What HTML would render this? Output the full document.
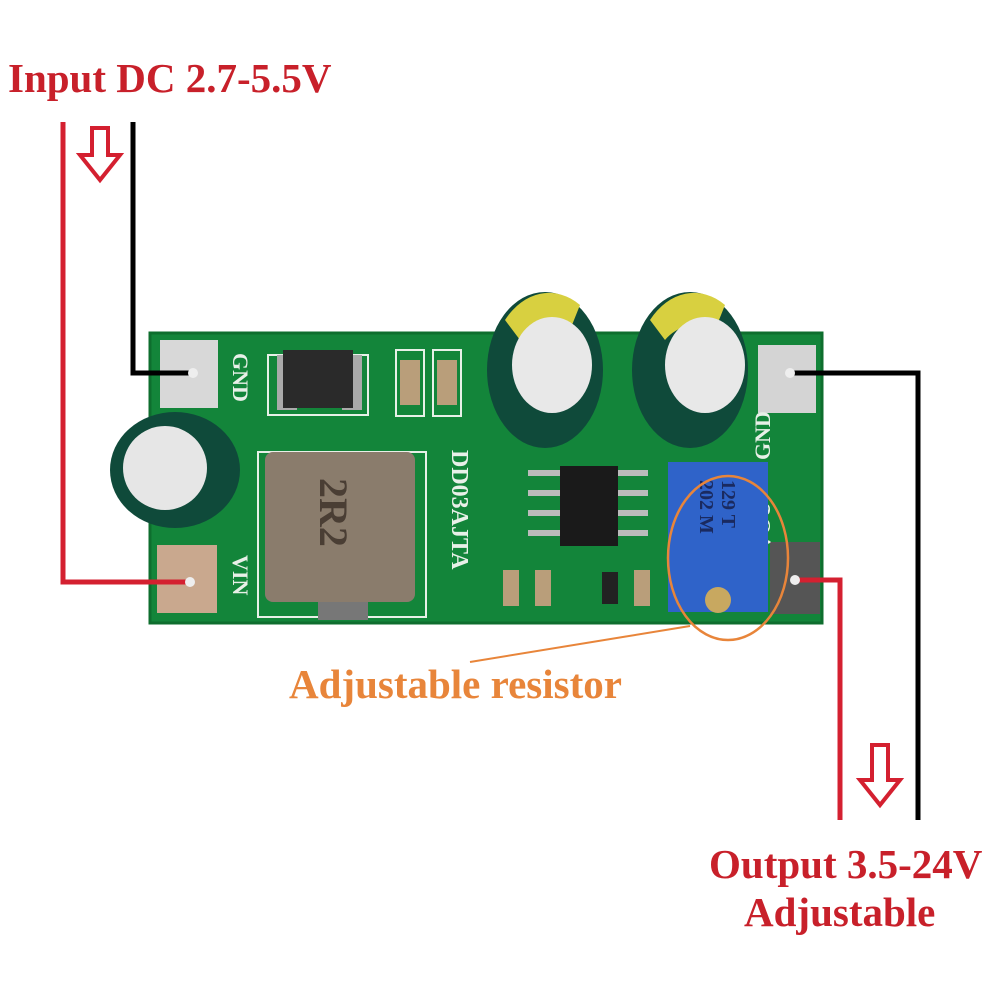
<!DOCTYPE html>
<html><head><style>
html,body{margin:0;padding:0;background:#fff;}
svg{display:block}
text{font-family:"Liberation Serif",serif;font-weight:bold}
</style></head><body>
<svg width="1000" height="1000" viewBox="0 0 1000 1000" xmlns="http://www.w3.org/2000/svg">
<rect width="1000" height="1000" fill="#fff"/>
<text x="8" y="92" font-size="41" fill="#c8202a">Input DC 2.7-5.5V</text>
<rect x="150" y="333" width="672" height="290" fill="#13853a" rx="3"/>
<rect x="150" y="333" width="672" height="290" fill="none" stroke="#0e6e2e" stroke-width="3"/>
<rect x="160" y="340" width="58" height="68" fill="#d8d8d8"/>
<rect x="157" y="545" width="60" height="68" fill="#c9a88e"/>
<rect x="758" y="345" width="58" height="68" fill="#d4d4d4"/>
<rect x="770" y="542" width="50" height="72" fill="#555"/>
<text x="233" y="353" font-size="22" fill="#e8f0e8" transform="rotate(90 233 353)">GND</text>
<text x="233" y="555" font-size="22" fill="#e8f0e8" transform="rotate(90 233 555)">VIN</text>
<text x="770" y="420" font-size="22" fill="#e8f0e8" transform="rotate(-90 770 420) translate(-40,0)">GND</text>
<text x="770" y="520" font-size="22" fill="#e8f0e8" transform="rotate(-90 770 520) translate(-30,0)">VOU</text>
<rect x="268" y="355" width="100" height="60" fill="none" stroke="#e8f0e8" stroke-width="2"/>
<rect x="277" y="355" width="20" height="55" fill="#aaa"/>
<rect x="342" y="355" width="20" height="55" fill="#aaa"/>
<rect x="283" y="350" width="70" height="58" fill="#2a2a2a"/>
<rect x="396" y="350" width="28" height="66" fill="none" stroke="#e8f0e8" stroke-width="2"/>
<rect x="400" y="360" width="20" height="45" fill="#b99e7a"/>
<rect x="433" y="350" width="28" height="66" fill="none" stroke="#e8f0e8" stroke-width="2"/>
<rect x="437" y="360" width="20" height="45" fill="#b99e7a"/>
<rect x="258" y="452" width="168" height="165" fill="none" stroke="#e8f0e8" stroke-width="2"/>
<rect x="318" y="598" width="50" height="22" fill="#777"/>
<rect x="265" y="452" width="150" height="150" rx="8" fill="#8a7c6c"/>
<text x="320" y="478" font-size="40" fill="#4a3e34" transform="rotate(90 320 478)">2R2</text>
<text x="452" y="450" font-size="24" fill="#e8f0e8" transform="rotate(90 452 450)">DD03AJTA</text>
<rect x="560" y="466" width="58" height="80" fill="#1a1a1a"/>
<g fill="#bbb"><rect x="528" y="470" width="32" height="6"/><rect x="528" y="490" width="32" height="6"/><rect x="528" y="510" width="32" height="6"/><rect x="528" y="530" width="32" height="6"/>
<rect x="618" y="470" width="30" height="6"/><rect x="618" y="490" width="30" height="6"/><rect x="618" y="510" width="30" height="6"/><rect x="618" y="530" width="30" height="6"/></g>
<g fill="#b99e7a"><rect x="503" y="570" width="16" height="36"/><rect x="535" y="570" width="16" height="36"/><rect x="634" y="570" width="16" height="36"/></g>
<rect x="602" y="572" width="16" height="32" fill="#222"/>
<ellipse cx="175" cy="470" rx="65" ry="58" fill="#0f4a3a"/>
<ellipse cx="165" cy="468" rx="42" ry="42" fill="#e6e6e6"/>
<ellipse cx="545" cy="370" rx="58" ry="78" fill="#0f4a3a"/>
<path d="M505 320 A58 78 0 0 1 580 305 L570 330 A40 40 0 0 0 520 340 Z" fill="#d8d040"/>
<ellipse cx="552" cy="365" rx="40" ry="48" fill="#e8e8e8"/>
<ellipse cx="690" cy="370" rx="58" ry="78" fill="#0f4a3a"/>
<path d="M650 320 A58 78 0 0 1 725 305 L715 330 A40 40 0 0 0 665 340 Z" fill="#d8d040"/>
<ellipse cx="705" cy="365" rx="40" ry="48" fill="#e8e8e8"/>
<rect x="668" y="462" width="100" height="150" fill="#2f63c9"/>
<text x="722" y="480" font-size="20" fill="#1a2a60" transform="rotate(90 722 480)">129 T</text>
<text x="700" y="480" font-size="20" fill="#1a2a60" transform="rotate(90 700 480)">202 M</text>
<circle cx="718" cy="600" r="13" fill="#c8a860"/>
<ellipse cx="728" cy="558" rx="60" ry="82" fill="none" stroke="#e8853a" stroke-width="2.5"/>
<line x1="470" y1="662" x2="690" y2="626" stroke="#e8853a" stroke-width="2"/>
<text x="289" y="698" font-size="41" fill="#e8853a">Adjustable resistor</text>
<polyline points="63,122 63,582 190,582" fill="none" stroke="#d42030" stroke-width="5"/>
<polyline points="133,122 133,373 193,373" fill="none" stroke="#000" stroke-width="5"/>
<circle cx="193" cy="373" r="5" fill="#eee"/><circle cx="190" cy="582" r="5" fill="#eee"/>
<polyline points="790,373 918,373 918,820" fill="none" stroke="#000" stroke-width="5"/>
<polyline points="795,580 840,580 840,820" fill="none" stroke="#d42030" stroke-width="5"/>
<circle cx="790" cy="373" r="5" fill="#eee"/><circle cx="795" cy="580" r="5" fill="#eee"/>
<path d="M92,128 L108,128 L108,155 L120,155 L100,180 L80,155 L92,155 Z" fill="#fff" stroke="#d42030" stroke-width="4"/>
<path d="M872,745 L888,745 L888,780 L900,780 L880,805 L860,780 L872,780 Z" fill="#fff" stroke="#d42030" stroke-width="4"/>
<text x="709" y="878" font-size="41" fill="#c8202a">Output 3.5-24V</text>
<text x="744" y="926" font-size="41" fill="#c8202a">Adjustable</text>
</svg>
</body></html>
